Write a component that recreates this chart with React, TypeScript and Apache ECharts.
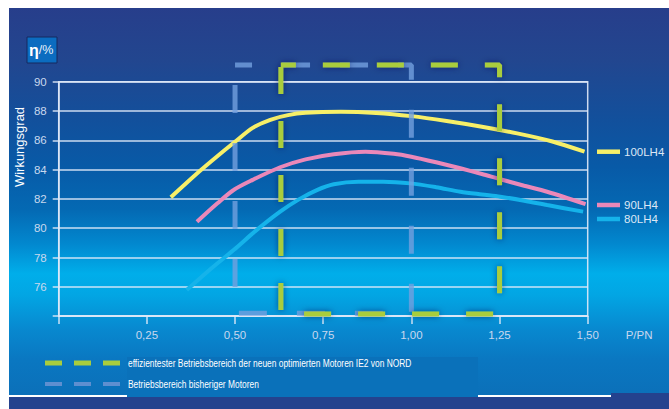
import React, { useEffect, useRef } from "react";
import * as echarts from "echarts";

// ---- data ----
const load100 = [0.318, 0.4, 0.448, 0.5, 0.55, 0.6, 0.65, 0.7, 0.8, 0.9, 1.0, 1.1, 1.2, 1.3, 1.4, 1.491];
const eff100 = [82.11, 83.9, 84.88, 85.9, 86.85, 87.4, 87.72, 87.88, 87.95, 87.87, 87.65, 87.32, 86.93, 86.47, 85.92, 85.22];

const load90 = [0.392, 0.45, 0.496, 0.55, 0.628, 0.7, 0.78, 0.87, 0.95, 1.0, 1.07, 1.139, 1.2, 1.252, 1.32, 1.385, 1.494];
const eff90 = [80.44, 81.7, 82.61, 83.3, 84.16, 84.7, 85.05, 85.22, 85.08, 84.88, 84.5, 84.09, 83.7, 83.34, 82.9, 82.49, 81.65];

const load80 = [0.363, 0.43, 0.496, 0.56, 0.628, 0.68, 0.732, 0.78, 0.85, 0.92, 0.997, 1.07, 1.139, 1.2, 1.252, 1.32, 1.385, 1.487];
const eff80 = [75.78, 77.2, 78.51, 79.85, 81.13, 81.95, 82.6, 83.0, 83.17, 83.17, 83.06, 82.8, 82.49, 82.3, 82.15, 81.88, 81.58, 81.13];

// operating ranges (rectangles, drawn as dashed outlines)
const prevRangeLoad = [0.5, 1.0, 1.0, 0.5, 0.5];
const prevRangeEff = [91.14, 91.14, 74.2, 74.2, 91.14];
const newRangeLoad = [0.63, 1.25, 1.25, 0.63, 0.63];
const newRangeEff = [91.14, 91.14, 74.15, 74.15, 91.14];

const seriesNames = ["100LH4", "90LH4", "80LH4"];
const seriesColors = ["#f7ef68", "#ea88b9", "#15b3ea"];
const rangeLabels = [
  "effizientester Betriebsbereich der neuen optimierten Motoren IE2 von NORD",
  "Betriebsbereich bisheriger Motoren",
];
const yName = "Wirkungsgrad";
const xName = "P/PN";

const zip = (a: number[], b: number[]) => a.map((v, i) => [v, b[i]]);

const lineCol = "rgba(225,234,248,0.9)";
const labelCol = "#c9d8ee";

export default function App() {
  const ref = useRef<HTMLDivElement>(null);
  useEffect(() => {
    document.body.style.margin = "0";
    document.body.style.overflow = "hidden";
    const chart = echarts.init(ref.current!, null, { renderer: "svg" });
    const curves = [
      [load100, eff100],
      [load90, eff90],
      [load80, eff80],
    ];
    const legendCenters = [152.7, 206, 220];
    const option: any = {
      animation: false,
      backgroundColor: "#ffffff",
      grid: {
        left: 58.7,
        right: 81.3,
        top: 81.7,
        bottom: 92.9,
        show: true,
        borderColor: lineCol,
        borderWidth: 1.5,
        backgroundColor: "transparent",
      },
      xAxis: {
        type: "value",
        min: 0,
        max: 1.5,
        interval: 0.25,
        name: xName,
        nameLocation: "end",
        nameGap: 38,
        nameTextStyle: {
          color: labelCol,
          fontSize: 11.5,
          fontFamily: "Liberation Sans, Arial, sans-serif",
          align: "left",
          verticalAlign: "top",
          padding: [13, 0, 0, 0],
        },
        axisLine: { show: true, lineStyle: { color: lineCol, width: 1.5 } },
        axisTick: { show: true, length: 8, lineStyle: { color: lineCol, width: 1.5 } },
        splitLine: { show: false },
        axisLabel: {
          color: labelCol,
          fontSize: 11.5,
          fontFamily: "Liberation Sans, Arial, sans-serif",
          margin: 13,
          formatter: (v: number) => (v === 0 ? "" : v.toFixed(2).replace(".", ",")),
        },
      },
      yAxis: {
        type: "value",
        min: 74,
        max: 90,
        interval: 2,
        axisLine: { show: true, lineStyle: { color: lineCol, width: 1.5 } },
        axisTick: { show: true, length: 6, lineStyle: { color: lineCol, width: 1.5 } },
        splitLine: { show: true, lineStyle: { color: lineCol, width: 1.5 } },
        axisLabel: {
          color: labelCol,
          fontSize: 11.5,
          fontFamily: "Liberation Sans, Arial, sans-serif",
          margin: 12,
          formatter: (v: number) => (v === 74 ? "" : String(v)),
        },
      },
      legend: seriesNames.map((n, i) => ({
        data: [n],
        left: 597,
        top: legendCenters[i] - 7,
        padding: 0,
        icon: "rect",
        itemWidth: 23,
        itemHeight: 4.5,
        selectedMode: false,
        textStyle: {
          color: "#dde7f5",
          fontSize: 11.5,
          fontFamily: "Liberation Sans, Arial, sans-serif",
          padding: [0, 0, 0, -1],
        },
      })),
      series: [
        ...seriesNames.map((n, i) => ({
          type: "line",
          name: n,
          data: zip(curves[i][0], curves[i][1]),
          smooth: 0.3,
          symbol: "none",
          lineStyle: { color: seriesColors[i], width: 4 },
          itemStyle: { color: seriesColors[i] },
          z: 2,
        })),
        {
          type: "line",
          name: rangeLabels[1],
          data: zip(prevRangeLoad, prevRangeEff),
          symbol: "none",
          clip: false,
          silent: true,
          lineStyle: {
            color: "rgba(115,160,222,0.8)",
            width: 5,
            type: [28, 30],
            dashOffset: 11,
            cap: "butt",
          },
          z: 3,
        },
        {
          type: "line",
          name: rangeLabels[0],
          data: zip(newRangeLoad, newRangeEff),
          symbol: "none",
          clip: false,
          silent: true,
          lineStyle: {
            color: "#a9cd3d",
            width: 5,
            type: [27, 27],
            dashOffset: 12,
            cap: "butt",
            shadowBlur: 6,
            shadowColor: "rgba(10,20,70,0.55)",
          },
          z: 4,
        },
      ],
      graphic: [
        {
          type: "rect",
          z: -10,
          shape: { x: 9, y: 8, width: 660, height: 387 },
          style: {
            fill: new echarts.graphic.LinearGradient(0, 0, 0, 1, [
              { offset: 0, color: "#273e8b" },
              { offset: 0.134, color: "#22468f" },
              { offset: 0.29, color: "#12509c" },
              { offset: 0.41, color: "#085aa7" },
              { offset: 0.52, color: "#0469b3" },
              { offset: 0.61, color: "#0288cf" },
              { offset: 0.687, color: "#00aeea" },
              { offset: 0.74, color: "#02a6e4" },
              { offset: 0.832, color: "#0888cf" },
              { offset: 0.91, color: "#0a77c1" },
              { offset: 1, color: "#0b70b9" },
            ]),
          },
        },
        { type: "rect", z: -10, shape: { x: 9, y: 397, width: 603, height: 12 }, style: { fill: "#24428e" } },
        { type: "rect", z: -10, shape: { x: 611, y: 393, width: 58, height: 16 }, style: { fill: "#24428e" } },
        { type: "rect", z: -9, shape: { x: 127, y: 357, width: 351, height: 40 }, style: { fill: "#0a71ba" } },
        // eta box
        {
          type: "rect",
          shape: { x: 27, y: 37, width: 30, height: 26 },
          style: { fill: "#0b6cc0", stroke: "#17285e", lineWidth: 1 },
        },
        {
          type: "text",
          x: 29,
          y: 50,
          style: {
            text: "{a|η}{b|/%}",
            verticalAlign: "middle",
            rich: {
              a: { fill: "#ffffff", fontSize: 16, fontWeight: "bold", fontFamily: "Liberation Sans, Arial, sans-serif" },
              b: { fill: "#e8f0fa", fontSize: 12.5, fontFamily: "Liberation Sans, Arial, sans-serif" },
            },
          },
        },
        {
          type: "text",
          x: 19,
          y: 147,
          rotation: Math.PI / 2,
          style: {
            text: yName,
            fill: "#ffffff",
            fontSize: 13,
            fontFamily: "Liberation Sans, Arial, sans-serif",
            align: "center",
            verticalAlign: "middle",
          },
        },
        // bottom legend
        ...[45, 74, 103].map((x) => ({
          type: "rect",
          shape: { x, y: 360.5, width: 17, height: 5 },
          style: { fill: "#a9cd3d" },
        })),
        ...[45, 74, 103].map((x) => ({
          type: "rect",
          shape: { x, y: 382, width: 17, height: 4 },
          style: { fill: "#5e8fd0" },
        })),
        {
          type: "text",
          x: 128,
          y: 363,
          scaleX: 0.732,
          style: {
            text: rangeLabels[0],
            fill: "#ffffff",
            fontSize: 11.5,
            fontFamily: "Liberation Sans, Arial, sans-serif",
            verticalAlign: "middle",
          },
        },
        {
          type: "text",
          x: 128,
          y: 384,
          scaleX: 0.732,
          style: {
            text: rangeLabels[1],
            fill: "#ffffff",
            fontSize: 11.5,
            fontFamily: "Liberation Sans, Arial, sans-serif",
            verticalAlign: "middle",
          },
        },
      ],
    };
    chart.setOption(option);
    return () => chart.dispose();
  }, []);
  return <div ref={ref} style={{ width: 669, height: 409 }} />;
}
